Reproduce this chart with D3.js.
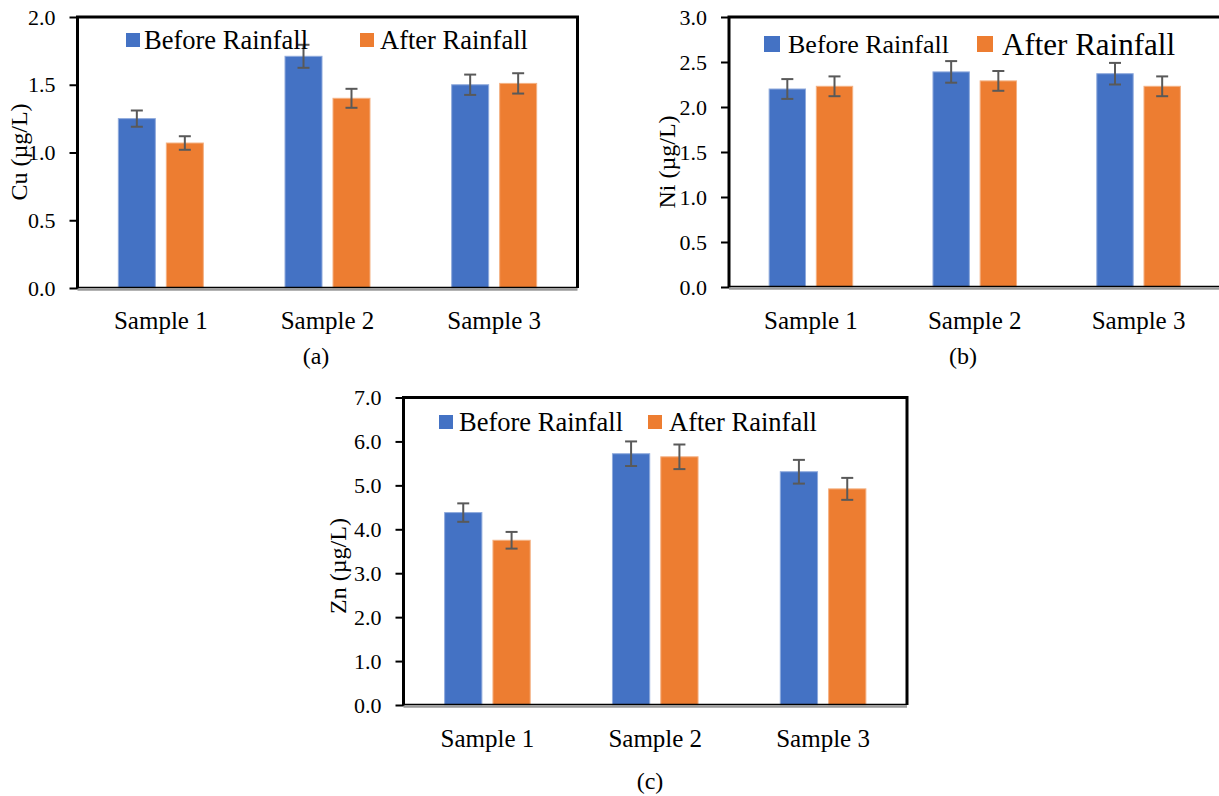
<!DOCTYPE html>
<html>
<head>
<meta charset="utf-8">
<script src="https://cdn.jsdelivr.net/npm/d3@7"></script>
<style>
  html, body { margin: 0; padding: 0; background: #fff; }
  svg { display: block; }
  text { font-family: "Liberation Serif", "Times New Roman", serif; fill: #000; }
</style>
</head>
<body>
<svg id="chart" width="1219" height="796"></svg>
<script>
// ---- data ----
const categories = ["Sample 1", "Sample 2", "Sample 3"];
const seriesNames = ["Before Rainfall", "After Rainfall"];

const cuBefore = [1.25, 1.71, 1.50];
const cuAfter = [1.07, 1.40, 1.51];
const cuBeforeErr = [0.06, 0.085, 0.075];
const cuAfterErr = [0.05, 0.07, 0.075];
const cuTicks = [0, 0.5, 1.0, 1.5, 2.0];

const niBefore = [2.20, 2.39, 2.37];
const niAfter = [2.23, 2.29, 2.23];
const niBeforeErr = [0.11, 0.12, 0.12];
const niAfterErr = [0.11, 0.11, 0.11];
const niTicks = [0, 0.5, 1.0, 1.5, 2.0, 2.5, 3.0];

const znBefore = [4.38, 5.72, 5.31];
const znAfter = [3.75, 5.65, 4.92];
const znBeforeErr = [0.21, 0.28, 0.27];
const znAfterErr = [0.19, 0.28, 0.25];
const znTicks = [0, 1, 2, 3, 4, 5, 6, 7];

const axisTitles = ["Cu (µg/L)", "Ni (µg/L)", "Zn (µg/L)"];
const captions = ["(a)", "(b)", "(c)"];

// ---- styling / layout ----
const colors = ["#4472C4", "#ED7D31"];
const edgeColors = ["#8FAADC", "#F4B183"];
const errColor = "#595959";

const svg = d3.select("#chart");

function drawPanel(p) {
  const g = svg.append("g");
  const y = d3.scaleLinear().domain([0, p.max]).range([p.bottom, p.top]);
  const x0 = d3.scaleBand().domain(categories).range([p.left, p.right])
    .paddingInner(0.49).paddingOuter(0.245);
  const x1 = d3.scaleBand().domain(seriesNames).range([0, x0.bandwidth()])
    .paddingInner(0.229);

  const rows = [];
  categories.forEach((c, i) => {
    seriesNames.forEach((s, j) => {
      rows.push({ c, s, j, v: p.values[j][i], e: p.errors[j][i] });
    });
  });

  // bars
  g.selectAll("rect.bar").data(rows).enter().append("rect")
    .attr("class", "bar")
    .attr("x", d => x0(d.c) + x1(d.s))
    .attr("width", x1.bandwidth())
    .attr("y", d => y(d.v))
    .attr("height", d => y(0) - y(d.v))
    .attr("fill", d => colors[d.j])
    .attr("stroke", d => edgeColors[d.j])
    .attr("stroke-width", 1);

  // error bars
  const cap = 6;
  const cx = d => x0(d.c) + x1(d.s) + x1.bandwidth() / 2;
  const eb = g.selectAll("g.err").data(rows).enter().append("g").attr("class", "err")
    .attr("stroke", errColor).attr("stroke-width", 2);
  eb.append("line")
    .attr("x1", cx).attr("x2", cx)
    .attr("y1", d => y(d.v + d.e)).attr("y2", d => y(d.v - d.e));
  eb.append("line")
    .attr("x1", d => cx(d) - cap).attr("x2", d => cx(d) + cap)
    .attr("y1", d => y(d.v + d.e)).attr("y2", d => y(d.v + d.e));
  eb.append("line")
    .attr("x1", d => cx(d) - cap).attr("x2", d => cx(d) + cap)
    .attr("y1", d => y(d.v - d.e)).attr("y2", d => y(d.v - d.e));

  // frame (top, left, right) thick black
  g.append("path")
    .attr("d", `M${p.left},${p.bottom + 1} L${p.left},${p.top} L${p.right},${p.top} L${p.right},${p.bottom}`)
    .attr("fill", "none").attr("stroke", "#000").attr("stroke-width", 3);
  // bottom: black thin + gray axis line
  g.append("line").attr("x1", p.left).attr("x2", p.right)
    .attr("y1", y(0) - 0.5).attr("y2", y(0) - 0.5)
    .attr("stroke", "#000").attr("stroke-width", 1.5);
  g.append("line").attr("x1", p.left).attr("x2", p.right)
    .attr("y1", y(0) + 1.5).attr("y2", y(0) + 1.5)
    .attr("stroke", "#9a9a9a").attr("stroke-width", 2.5);

  // y axis ticks + labels
  const yAxis = d3.axisLeft(y).tickValues(p.ticks).tickFormat(d3.format(".1f"))
    .tickSize(8).tickPadding(14);
  const ya = g.append("g").attr("transform", `translate(${p.left},0)`).call(yAxis);
  ya.select(".domain").remove();
  ya.selectAll(".tick line").attr("stroke", "#000").attr("stroke-width", 2);
  ya.selectAll(".tick text").attr("font-size", 22).attr("fill", "#000");

  // x axis category labels
  const xAxis = d3.axisBottom(x0).tickSize(0).tickPadding(0);
  const xa = g.append("g").attr("transform", `translate(0,${p.catY})`).call(xAxis);
  xa.select(".domain").remove();
  xa.selectAll(".tick text").attr("font-size", 25)
    .attr("fill", "#000").attr("dy", "0.35em").attr("y", 0);

  // axis title
  g.append("text")
    .attr("transform", `translate(${p.titleX},${p.titleY}) rotate(-90)`)
    .attr("text-anchor", "middle").attr("dy", "0.35em")
    .attr("font-size", 24).text(p.title);

  // caption
  g.append("text").attr("x", p.capX).attr("y", p.capY)
    .attr("text-anchor", "middle").attr("dy", "0.35em")
    .attr("font-size", 24).text(p.caption);

  // legend
  p.legend.forEach((L, j) => {
    g.append("rect").attr("x", L.sx).attr("y", p.legY - L.ss / 2)
      .attr("width", L.ss).attr("height", L.ss).attr("fill", colors[j]);
    g.append("text").attr("x", L.tx).attr("y", p.legY).attr("dy", "0.35em")
      .attr("font-size", L.fs).text(seriesNames[j]);
  });
}

drawPanel({
  left: 77.5, right: 577.5, top: 17, bottom: 288, max: 2,
  ticks: cuTicks, values: [cuBefore, cuAfter], errors: [cuBeforeErr, cuAfterErr],
  catY: 320, title: axisTitles[0], titleX: 19, titleY: 152,
  caption: captions[0], capX: 316, capY: 356,
  legY: 40,
  legend: [{ sx: 126, ss: 14, tx: 144, fs: 26.5 }, { sx: 360, ss: 14, tx: 380, fs: 26.5 }]
});

drawPanel({
  left: 729, right: 1220.5, top: 17, bottom: 287, max: 3,
  ticks: niTicks, values: [niBefore, niAfter], errors: [niBeforeErr, niAfterErr],
  catY: 320, title: axisTitles[1], titleX: 667, titleY: 162,
  caption: captions[1], capX: 963, capY: 356,
  legY: 44,
  legend: [{ sx: 764, ss: 16, tx: 788, fs: 26 }, { sx: 977, ss: 16, tx: 1002, fs: 31 }]
});

drawPanel({
  left: 403.5, right: 907, top: 397.5, bottom: 705, max: 7,
  ticks: znTicks, values: [znBefore, znAfter], errors: [znBeforeErr, znAfterErr],
  catY: 738, title: axisTitles[2], titleX: 338, titleY: 566,
  caption: captions[2], capX: 650, capY: 781,
  legY: 422,
  legend: [{ sx: 439, ss: 14, tx: 459, fs: 26.5 }, { sx: 648, ss: 14, tx: 669, fs: 26.5 }]
});
</script>
</body>
</html>
